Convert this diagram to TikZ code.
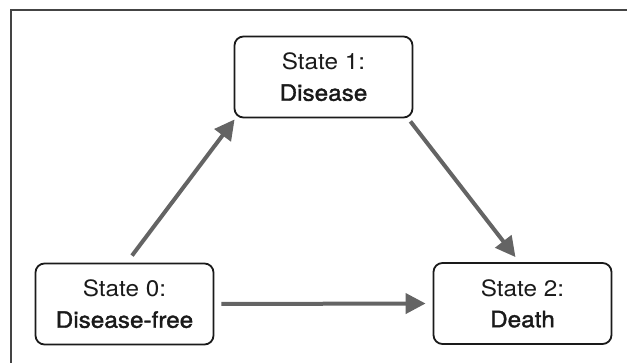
\documentclass[tikz,border=0pt]{standalone}
\usepackage{fontspec}
\setmainfont{TeX Gyre Heros}[FakeStretch=1.08]
\newfontfamily\medfont{TeX Gyre Heros}[FakeStretch=1.08,FakeBold=1.6]
\usetikzlibrary{arrows.meta}
\definecolor{framec}{HTML}{444444}
\definecolor{arrowc}{HTML}{646464}
\definecolor{boxc}{HTML}{1A1A1A}
\tikzset{
  statebox/.style={draw=boxc, line width=1.8pt, rounded corners=9pt,
    minimum width=178pt, minimum height=81pt, align=center, inner sep=0pt,
    text=boxc, font=\fontsize{22.5}{31}\selectfont},
  trans/.style={draw=arrowc, line width=4pt, -{Triangle[length=20pt,width=20pt]}}
}
\begin{document}
\begin{tikzpicture}[x=1pt,y=-1pt]
\useasboundingbox (0,0) rectangle (627,363);
\draw[framec, line width=2pt] (10.7,370) -- (10.7,9.7) -- (640,9.7);
\node[statebox] (s1) at (323.5,77) {State 1:\\{\medfont Disease}};
\node[statebox] (s0) at (124.5,304) {State 0:\\{\medfont Disease-free}};
\node[statebox] (s2) at (522.5,303.5) {State 2:\\{\medfont Death}};
\draw[trans] ([xshift=7.5pt,yshift=7pt]s0.north) -- ([xshift=1pt,yshift=-1pt]s1.south west);
\draw[trans] ([xshift=-3pt,yshift=-3pt]s1.south east) -- ([xshift=-7pt,yshift=5pt]s2.north);
\draw[trans] ([xshift=7pt]s0.east) -- ([xshift=-7pt]s2.west);
\end{tikzpicture}
\end{document}
